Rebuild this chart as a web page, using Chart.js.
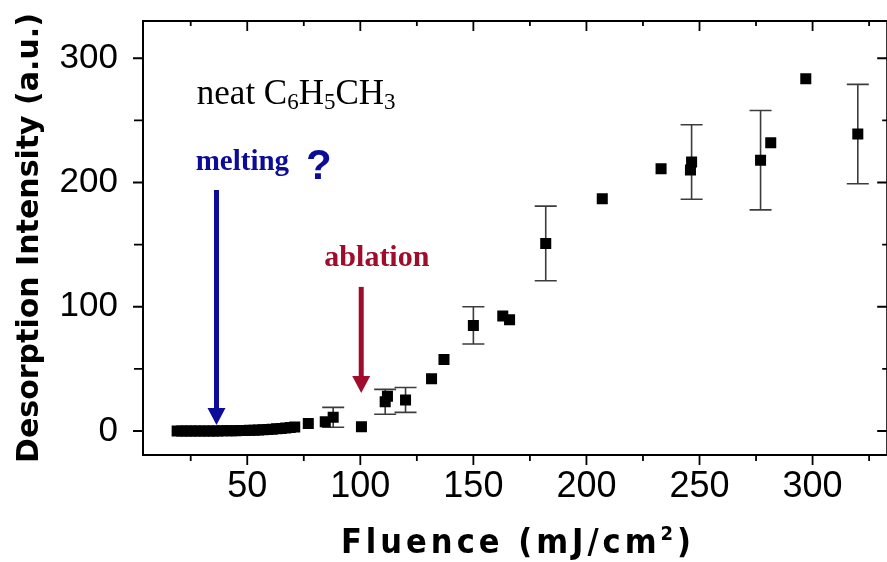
<!DOCTYPE html>
<html>
<head>
<meta charset="utf-8">
<script src="https://cdn.jsdelivr.net/npm/chart.js@4.4.0/dist/chart.umd.min.js"></script>
<style>
  html, body { margin: 0; padding: 0; background: #fff; overflow: hidden; }
  #wrap { position: relative; width: 895px; height: 562px; }
</style>
</head>
<body>
<div id="wrap"><canvas id="myChart"></canvas></div>
<script>
// fluence (mJ/cm2) and desorption intensity (a.u.)
const fluence = [19, 21, 23, 25, 27, 29, 31, 33, 35, 37, 39, 41, 43, 45, 47, 49, 51, 53, 55, 57,
  59, 61, 63, 65, 67, 69, 71, 77, 84.5, 88, 100.5, 111, 112, 120, 131.5, 137, 150, 163, 166,
  182, 207, 233, 246, 246.5, 277, 281.5, 297, 320];
const intensity = [0, 0, 0, 0, 0, 0, 0, 0, 0.1, 0.1, 0.2, 0.2, 0.3, 0.3, 0.4, 0.5, 0.6, 0.7, 0.9, 1.0,
  1.2, 1.5, 1.8, 2.1, 2.5, 2.8, 3.2, 6, 7.5, 11, 3.5, 23.5, 28, 25, 42, 57.5, 85, 92.5, 89.5,
  151, 187, 211, 210, 216.5, 218, 232, 283.5, 239];

// points that carry error bars
const errFluence = [88, 111, 120, 150, 182, 246.5, 277, 320];
const errIntensity = [11, 23.5, 25, 85, 151, 216.5, 218, 239];
const errHalf = [8, 10, 10, 15, 30, 30, 40, 40];

const xTicks = [25, 50, 75, 100, 125, 150, 175, 200, 225, 250, 275, 300, 325];
const yTicks = [0, 50, 100, 150, 200, 250, 300];

const BLUE = '#0c0c98';
const RED = '#a00c2c';

function arrow(ctx, x, y1, y2, color) {
  ctx.save();
  ctx.strokeStyle = color;
  ctx.fillStyle = color;
  ctx.lineWidth = 5;
  ctx.beginPath();
  ctx.moveTo(x, y1);
  ctx.lineTo(x, y2 - 15);
  ctx.stroke();
  ctx.beginPath();
  ctx.moveTo(x - 9, y2 - 17);
  ctx.lineTo(x + 9, y2 - 17);
  ctx.lineTo(x, y2);
  ctx.closePath();
  ctx.fill();
  ctx.restore();
}

// text runs: [text, isSubscript]
function runs(ctx, parts, x, y, big, small, off) {
  parts.forEach(p => {
    ctx.font = p[1] ? small : big;
    ctx.fillText(p[0], x, p[1] ? y + off : y);
    x += ctx.measureText(p[0]).width;
  });
}

const decor = {
  id: 'decor',
  beforeDatasetsDraw(chart) {
    const {ctx, scales: {x, y}} = chart;
    ctx.save();
    ctx.strokeStyle = '#3c3c3c';
    ctx.lineWidth = 1.6;
    errFluence.forEach((f, i) => {
      const px = x.getPixelForValue(f);
      const top = y.getPixelForValue(errIntensity[i] + errHalf[i]);
      const bot = y.getPixelForValue(errIntensity[i] - errHalf[i]);
      ctx.beginPath();
      ctx.moveTo(px, top); ctx.lineTo(px, bot);
      ctx.moveTo(px - 11, top); ctx.lineTo(px + 11, top);
      ctx.moveTo(px - 11, bot); ctx.lineTo(px + 11, bot);
      ctx.stroke();
    });
    ctx.restore();
  },
  afterDraw(chart) {
    const {ctx, chartArea: a, scales: {x, y}} = chart;
    ctx.save();
    // frame
    ctx.strokeStyle = '#000';
    ctx.lineWidth = 2;
    ctx.strokeRect(a.left, a.top, a.right - a.left, a.bottom - a.top);
    // ticks
    ctx.lineWidth = 1.8;
    ctx.beginPath();
    xTicks.forEach(v => {
      const px = x.getPixelForValue(v);
      const major = v % 50 === 0;
      ctx.moveTo(px, a.bottom); ctx.lineTo(px, a.bottom + (major ? 10 : 6));
      ctx.moveTo(px, a.top); ctx.lineTo(px, a.top + (major ? 10 : 5));
    });
    yTicks.forEach(v => {
      const py = y.getPixelForValue(v);
      const major = v % 100 === 0;
      ctx.moveTo(a.left, py); ctx.lineTo(a.left - (major ? 10 : 9), py);
      ctx.moveTo(a.right, py); ctx.lineTo(a.right - (major ? 10 : 5), py);
    });
    ctx.stroke();

    // annotations
    ctx.textBaseline = 'alphabetic';
    ctx.textAlign = 'left';
    ctx.fillStyle = '#000';
    runs(ctx, [['neat C', 0], ['6', 1], ['H', 0], ['5', 1], ['CH', 0], ['3', 1]],
      x.getPixelForValue(27.7), y.getPixelForValue(263),
      '35px "Liberation Serif"', '23px "Liberation Serif"', 5);

    ctx.fillStyle = BLUE;
    ctx.font = 'bold 29px "Liberation Serif"';
    ctx.fillText('melting', x.getPixelForValue(27.2), y.getPixelForValue(210));
    ctx.font = 'bold 42px "Liberation Sans"';
    ctx.fillText('?', x.getPixelForValue(76.0), y.getPixelForValue(203));
    arrow(ctx, x.getPixelForValue(36.4), y.getPixelForValue(194), y.getPixelForValue(4.8), BLUE);

    ctx.fillStyle = RED;
    ctx.font = 'bold 30px "Liberation Serif"';
    ctx.fillText('ablation', x.getPixelForValue(84.1), y.getPixelForValue(133));
    arrow(ctx, x.getPixelForValue(100.4), y.getPixelForValue(116), y.getPixelForValue(30.6), RED);

    // axis titles
    ctx.fillStyle = '#000';
    ctx.save();
    ctx.translate(30, 238);
    ctx.rotate(-Math.PI / 2);
    ctx.textAlign = 'center';
    ctx.textBaseline = 'middle';
    ctx.font = 'bold 30px "DejaVu Sans"';
    ctx.fillText('Desorption Intensity (a.u.)', 0, 0);
    ctx.restore();

    ctx.letterSpacing = '4px';
    const big = 'bold 34px "Liberation Sans Narrow", "DejaVu Sans Condensed", "Liberation Sans"';
    const sup = 'bold 20px "Liberation Sans Narrow", "DejaVu Sans Condensed", "Liberation Sans"';
    const parts = [['Fluence (mJ/cm', big, 0], ['2', sup, -13], [')', big, 0]];
    let w = 0;
    parts.forEach(p => { ctx.font = p[1]; w += ctx.measureText(p[0]).width; });
    let tx = 518 - w / 2;
    parts.forEach(p => {
      ctx.font = p[1];
      ctx.fillText(p[0], tx, 553 + p[2]);
      tx += ctx.measureText(p[0]).width;
    });
    ctx.restore();
  }
};

const points = fluence.map((f, i) => ({x: f, y: intensity[i]}));

new Chart(document.getElementById('myChart'), {
  type: 'scatter',
  data: {
    datasets: [{
      data: points,
      pointStyle: 'rect',
      pointRadius: 7.8,
      backgroundColor: '#000',
      borderWidth: 0
    }]
  },
  options: {
    responsive: true,
    maintainAspectRatio: false,
    animation: false,
    events: [],
    layout: {padding: {left: 0, right: 6, top: 21, bottom: 0}},
    plugins: {legend: {display: false}, tooltip: {enabled: false}},
    scales: {
      x: {
        type: 'linear',
        min: 3.9,
        max: 333,
        afterBuildTicks: s => { s.ticks = xTicks.map(v => ({value: v})); },
        afterFit: s => { s.height = 107; s.paddingLeft = 0; s.paddingRight = 0; },
        grid: {display: false, drawTicks: false},
        border: {display: false},
        ticks: {
          autoSkip: false,
          maxRotation: 0,
          padding: 10,
          color: '#000',
          font: {family: '"Liberation Sans"', size: 36},
          callback: v => (v % 50 === 0 ? v : '')
        }
      },
      y: {
        type: 'linear',
        min: -19.3,
        max: 330,
        afterBuildTicks: s => { s.ticks = yTicks.map(v => ({value: v})); },
        afterFit: s => { s.width = 143; s.paddingTop = 0; s.paddingBottom = 0; },
        grid: {display: false, drawTicks: false},
        border: {display: false},
        ticks: {
          autoSkip: false,
          padding: 25,
          color: '#000',
          font: {family: '"Liberation Sans"', size: 35},
          callback: v => (v % 100 === 0 ? v : '')
        }
      }
    }
  },
  plugins: [decor]
});
</script>
</body>
</html>
